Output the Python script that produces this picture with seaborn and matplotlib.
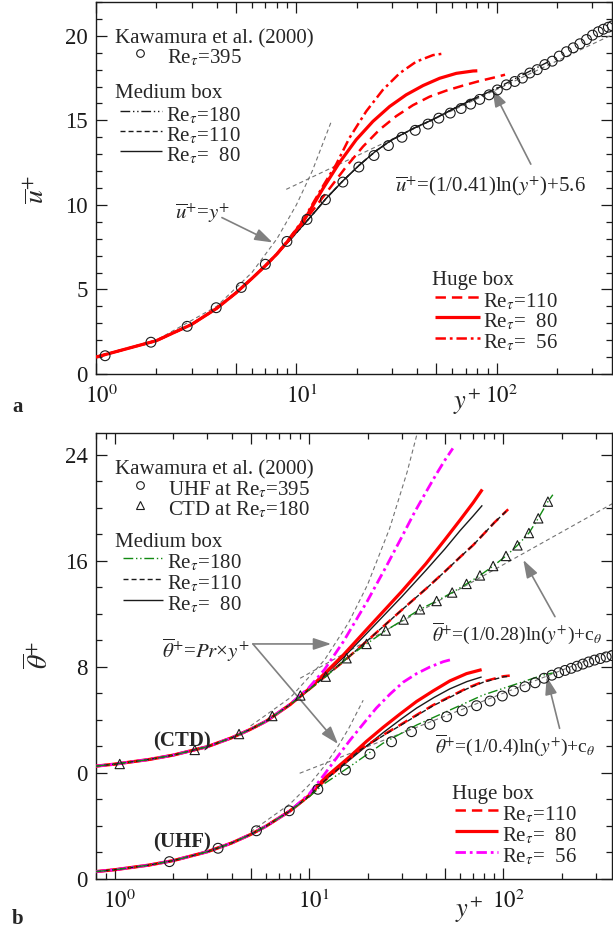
import numpy as np
import matplotlib
matplotlib.use('Agg')
import matplotlib.pyplot as plt
import seaborn as sns
from matplotlib.lines import Line2D
from matplotlib.transforms import ScaledTranslation
from matplotlib.ticker import FixedLocator, FuncFormatter, MultipleLocator, NullFormatter

# ---------------- data : panel a (mean velocity) ----------------
YP_KAW395 = [1.11, 1.88, 2.85, 3.98, 5.31, 7.0, 8.97, 11.3, 13.96, 17.06, 20.5, 24.4, 28.8, 33.65,
             39.2, 45.4, 51.4, 58.6, 66.4, 74.1, 82.2, 91.6, 100.7, 111.7, 123, 134.3, 146.2, 159.2,
             173.8, 189.2, 205.1, 222.8, 241, 260, 280.5, 300.6, 321.4, 340.4, 360.6, 377.6]
U_KAW395 = [1.08, 1.88, 2.82, 3.92, 5.12, 6.49, 7.84, 9.14, 10.31, 11.35, 12.24, 12.92, 13.51, 14.0,
            14.41, 14.78, 15.13, 15.43, 15.7, 15.96, 16.24, 16.51, 16.8, 17.1, 17.3, 17.5, 17.8, 18.0,
            18.3, 18.5, 18.8, 19.06, 19.29, 19.53, 19.78, 20.04, 20.24, 20.39, 20.51, 20.59]

YP_M180 = [1, 2, 3, 4, 5, 6, 7, 8, 9, 10, 11, 12.5, 14, 17, 20.6, 25, 30, 38, 48, 60, 76, 96, 130, 180]
U_M180 = [1.0, 1.97, 2.93, 3.88, 4.8, 5.65, 6.4, 7.1, 7.75, 8.35, 8.9, 9.65, 10.35, 11.4, 12.35, 13.2,
          13.85, 14.5, 15.05, 15.65, 16.25, 16.8, 17.6, 18.45]
YP_M110 = [1, 2, 3, 4, 5, 6, 7, 8, 9, 10, 11, 12.5, 14, 17, 20.6, 25, 30, 38, 48, 60, 76, 96, 110]
U_M110 = [1.0, 1.97, 2.93, 3.88, 4.8, 5.65, 6.4, 7.1, 7.75, 8.35, 8.9, 9.65, 10.35, 11.4, 12.35, 13.2,
          13.85, 14.5, 15.05, 15.65, 16.25, 16.8, 17.1]
YP_M80 = [1, 2, 3, 4, 5, 6, 7, 8, 9, 10, 11, 12.5, 14, 17, 20.6, 25, 30, 38, 48, 60, 76, 80]
U_M80 = [1.0, 1.97, 2.93, 3.88, 4.8, 5.65, 6.4, 7.1, 7.75, 8.35, 8.9, 9.65, 10.35, 11.4, 12.35, 13.2,
         13.85, 14.5, 15.05, 15.65, 16.25, 16.35]

YP_H110 = [1, 2, 3, 4, 5, 6, 7, 8, 9, 11, 14.6, 17.7, 21.5, 26, 31.5, 38.2, 46.2, 56, 68, 82.2, 96, 110]
U_H110 = [1.0, 1.97, 2.93, 3.88, 4.8, 5.65, 6.4, 7.1, 7.8, 9.05, 10.95, 12.25, 13.45, 14.45, 15.25, 15.9,
          16.4, 16.76, 17.06, 17.33, 17.52, 17.7]
YP_H80 = [1, 2, 3, 4, 5, 6, 7, 8, 9, 11, 13.55, 16.4, 19.9, 24.1, 29.2, 35.3, 42.9, 51.9, 62.8, 76.2, 80]
U_H80 = [1.0, 1.97, 2.93, 3.88, 4.8, 5.65, 6.4, 7.1, 7.82, 9.15, 10.95, 12.5, 13.86, 14.94, 15.82, 16.51,
         17.06, 17.49, 17.78, 17.92, 17.93]
YP_H56 = [1, 2, 3, 4, 5, 6, 7, 8, 9, 11, 13.55, 15.8, 18.4, 22.3, 27, 32.7, 39.6, 48.1, 55]
U_H56 = [1.0, 1.97, 2.93, 3.88, 4.8, 5.65, 6.4, 7.1, 7.85, 9.25, 11.1, 12.4, 13.96, 15.53, 16.8, 17.78,
         18.47, 18.86, 18.96]

YP_VISC = [1, 2, 4, 6, 8, 10, 12, 14.9]
U_VISC = [1, 2, 4, 6, 8, 10, 12, 14.9]
YP_LOG = [8.9, 376]
U_LOG = [10.92, 20.06]

# ---------------- data : panel b (mean temperature) ----------------
CTD_SHIFT = 8.0
YP_UHF395 = [1.91, 3.40, 5.36, 7.91, 11.1, 15.4, 20.6, 26.6, 33.7, 41.9, 51.1, 61.5, 72.9, 85.5, 98.9,
             112.7, 129.4, 145.9, 162.2, 177.8, 192.8, 208, 223.9, 239.9, 257, 275.4, 295.1, 316.2,
             338.8, 363.1]
TH_UHF395 = [1.31, 2.32, 3.64, 5.15, 6.77, 8.23, 9.43, 10.36, 11.12, 11.67, 12.25, 12.70, 13.08, 13.43,
             13.81, 14.19, 14.51, 14.81, 15.15, 15.38, 15.57, 15.74, 15.90, 16.06, 16.22, 16.38, 16.52,
             16.64, 16.76, 16.86]
YP_CTD180 = [1.06, 2.58, 4.36, 6.47, 9.02, 12.19, 15.6, 19.77, 24.83, 30.69, 37.24, 45.39, 54.58, 64.71,
             75.86, 88.72, 103.3, 118.3, 135.5, 151.4, 169.8]
TH_CTD180 = [0.68, 1.74, 2.94, 4.30, 5.85, 7.27, 8.66, 9.74, 10.75, 11.58, 12.35, 12.98, 13.62, 14.27,
             14.91, 15.62, 16.38, 17.18, 18.11, 19.22, 20.48]

# UHF curves
YP_U_M180 = [0.8, 1, 1.5, 2, 3, 4, 5, 6, 8, 10, 12, 16.2, 24, 35.8, 53.1, 78.9, 117, 160.7, 180]
TH_U_M180 = [0.56, 0.70, 1.05, 1.39, 2.06, 2.72, 3.36, 3.98, 5.15, 6.2, 7.2, 8.48, 10.24, 11.62, 12.75,
             13.89, 14.72, 15.40, 15.55]
YP_U_M110 = [0.8, 1, 1.5, 2, 3, 4, 5, 6, 8, 10, 12, 18.2, 24.1, 29.4, 35.8, 43.6, 53.1, 64.7, 78.9, 100, 108]
TH_U_M110 = [0.56, 0.70, 1.05, 1.39, 2.06, 2.72, 3.36, 3.98, 5.15, 6.25, 7.4, 9.7, 10.82, 11.57, 12.33,
             13.08, 13.71, 14.34, 14.85, 15.25, 15.3]
YP_U_M80 = [0.8, 1, 1.5, 2, 3, 4, 5, 6, 8, 10, 12, 16.2, 20, 24.1, 30, 35.8, 44, 53.1, 65, 77.4]
TH_U_M80 = [0.56, 0.70, 1.05, 1.39, 2.06, 2.72, 3.36, 3.98, 5.15, 6.25, 7.45, 9.0, 10.1, 11.05, 12.1,
            12.9, 13.7, 14.35, 14.9, 15.25]
YP_U_H110 = [0.8, 1, 1.5, 2, 3, 4, 5, 6, 8, 10, 12, 18.2, 24.1, 29.4, 35.8, 43.6, 53.1, 64.7, 78.9, 100, 108]
TH_U_H110 = [0.56, 0.70, 1.05, 1.39, 2.06, 2.72, 3.36, 3.98, 5.15, 6.25, 7.4, 9.74, 10.87, 11.62, 12.38,
             13.13, 13.76, 14.39, 14.9, 15.3, 15.35]
YP_U_H80 = [0.8, 1, 1.5, 2, 3, 4, 5, 6, 8, 10, 12, 16.2, 19.8, 24.1, 29.4, 35.8, 43.6, 53.1, 64.7, 77.4]
TH_U_H80 = [0.56, 0.70, 1.05, 1.39, 2.06, 2.72, 3.36, 3.98, 5.15, 6.3, 7.6, 9.23, 10.4, 11.45, 12.45,
            13.4, 14.2, 14.95, 15.5, 15.8]
YP_U_H56 = [0.8, 1, 1.5, 2, 3, 4, 5, 6, 8, 10, 12, 13.8, 16.2, 19, 22.2, 26.1, 30.5, 35.8, 41.9, 49.1, 55.2]
TH_U_H56 = [0.56, 0.70, 1.05, 1.39, 2.06, 2.72, 3.36, 3.98, 5.15, 6.4, 7.9, 9.1, 10.45, 11.7, 12.9,
            13.95, 14.85, 15.5, 16.0, 16.4, 16.6]

# CTD curves (true values, drawn shifted by CTD_SHIFT)
YP_C_M180 = [0.8, 1, 1.5, 2, 3, 4, 5, 6, 8, 10, 12.19, 15.6, 19.77, 24.83, 30.69, 37.24, 45.39, 54.58,
             64.71, 75.86, 88.72, 103.3, 118.3, 135.5, 151.4, 169.8, 180]
TH_C_M180 = [0.52, 0.67, 1.02, 1.35, 1.99, 2.66, 3.3, 3.9, 5.17, 6.3, 7.27, 8.66, 9.74, 10.75, 11.58,
             12.35, 12.98, 13.62, 14.27, 14.91, 15.62, 16.38, 17.18, 18.11, 19.22, 20.48, 21.0]
YP_C_M110 = [0.8, 1, 1.5, 2, 3, 4, 5, 6, 8, 10, 15, 20, 30, 40, 50, 60, 70, 80, 90, 106]
TH_C_M110 = [0.52, 0.67, 1.02, 1.35, 1.99, 2.66, 3.3, 3.9, 5.17, 6.3, 8.4, 10.0, 12.3, 13.9, 15.2,
             16.3, 17.2, 18.1, 18.9, 19.9]
YP_C_M80 = [0.8, 1, 1.5, 2, 3, 4, 5, 6, 8, 10, 15, 20, 30, 40, 50, 60, 70, 78]
TH_C_M80 = [0.52, 0.67, 1.02, 1.35, 1.99, 2.66, 3.3, 3.9, 5.17, 6.3, 8.7, 10.6, 13.3, 15.3, 16.9,
            18.3, 19.4, 20.2]
YP_C_H110 = [0.8, 1, 1.5, 2, 3, 4, 5, 6, 8, 10, 15, 20, 30, 40, 50, 60, 70, 80, 90, 106]
TH_C_H110 = [0.52, 0.67, 1.02, 1.35, 1.99, 2.66, 3.3, 3.9, 5.17, 6.3, 8.4, 10.0, 12.3, 13.9, 15.2,
             16.3, 17.2, 18.1, 18.9, 19.9]
YP_C_H80 = [0.8, 1, 1.5, 2, 3, 4, 5, 6, 8, 10, 15, 20, 30, 40, 50, 60, 70, 78]
TH_C_H80 = [0.52, 0.67, 1.02, 1.35, 1.99, 2.66, 3.3, 3.9, 5.17, 6.35, 8.9, 10.9, 13.7, 15.8, 17.6,
            19.1, 20.4, 21.4]
YP_C_H56 = [0.8, 1, 1.5, 2, 3, 4, 5, 6, 8, 10, 12, 15, 20, 25, 30, 35, 40, 45, 50, 55]
TH_C_H56 = [0.52, 0.67, 1.02, 1.35, 1.99, 2.66, 3.3, 3.9, 5.2, 6.45, 7.8, 9.9, 13.0, 15.6, 17.8, 19.7,
            21.2, 22.5, 23.6, 24.5]

# reference laws
YP_PR_C = [5, 8, 12, 16, 20, 26, 32, 37]
TH_PR_C = [3.55, 5.68, 8.52, 11.36, 14.2, 18.46, 22.72, 26.27]
YP_LOG_C = [9, 368]
TH_LOG_C = [7.15, 20.36]
YP_PR_U = [5, 8, 10, 12, 14, 16, 19]
TH_PR_U = [3.55, 5.68, 7.1, 8.52, 9.94, 11.36, 13.49]
YP_LOG_U = [8.95, 363]
TH_LOG_U = [7.98, 17.25]

THETA_TICKS = [0, 8, 16, 24, 32]
THETA_TICKLABELS = ['0', '0', '8', '16', '24']

# ---------------- style ----------------
sns.set_theme(style='ticks')
plt.rcParams['font.family'] = ['Liberation Serif', 'DejaVu Serif']
plt.rcParams['mathtext.fontset'] = 'stix'
plt.rcParams['lines.scale_dashes'] = False

W, H = 613, 931
fig = plt.figure(figsize=(W / 100, H / 100), dpi=100)
ax1 = fig.add_axes([96 / W, 1 - 374 / H, 516 / W, 372 / H])
ax2 = fig.add_axes([96 / W, 1 - 879 / H, 516 / W, 446 / H])

RED = '#ff0000'
MAG = '#ff00ff'
GRN = '#128a12'
GRY = '0.45'
SOLID = '-'
DASH_M = (0, (3.6, 2.2))
DDOT = (0, (7, 2, 1, 2, 1, 2))
DASH_H = (0, (7.5, 4.3))
DASHDOT_H = (0, (7.5, 2.8, 2, 2.8))
DASH_G = (0, (3, 2.2))


def draw(ax, x, y, color, lw, ls, shift=0.0, z=2):
    sns.lineplot(x=np.asarray(x, float), y=np.asarray(y, float) + shift, ax=ax, color=color,
                 lw=lw, sort=False, estimator=None, zorder=z)
    ln = ax.lines[-1]
    ln.set_linestyle(ls)
    ln.set_solid_capstyle('butt')
    ln.set_dash_capstyle('butt')


for ax in (ax1, ax2):
    ax.set_xscale('log')

# ---- panel a ----
draw(ax1, YP_VISC, U_VISC, GRY, 0.8, DASH_G, z=1)
draw(ax1, YP_LOG, U_LOG, GRY, 0.8, DASH_G, z=1)
draw(ax1, YP_M180, U_M180, 'k', 1.0, DDOT, z=3)
draw(ax1, YP_M110, U_M110, 'k', 1.0, DASH_M, z=3)
draw(ax1, YP_M80, U_M80, 'k', 1.0, SOLID, z=3)
draw(ax1, YP_H110, U_H110, RED, 1.8, DASH_H, z=4)
draw(ax1, YP_H80, U_H80, RED, 2.3, SOLID, z=4)
draw(ax1, YP_H56, U_H56, RED, 1.8, DASHDOT_H, z=4)
sns.scatterplot(x=YP_KAW395, y=U_KAW395, ax=ax1, marker='o', s=50, facecolor='none',
                edgecolor='k', linewidth=0.8, zorder=5)

# ---- panel b ----
draw(ax2, YP_PR_C, TH_PR_C, GRY, 0.8, DASH_G, shift=CTD_SHIFT, z=1)
draw(ax2, YP_LOG_C, TH_LOG_C, GRY, 0.8, DASH_G, shift=CTD_SHIFT, z=1)
draw(ax2, YP_PR_U, TH_PR_U, GRY, 0.8, DASH_G, z=1)
draw(ax2, YP_LOG_U, TH_LOG_U, GRY, 0.8, DASH_G, z=1)
for sh, data in ((0.0, [(YP_U_M80, TH_U_M80), (YP_U_M110, TH_U_M110), (YP_U_M180, TH_U_M180),
                        (YP_U_H110, TH_U_H110), (YP_U_H80, TH_U_H80), (YP_U_H56, TH_U_H56)]),
                 (CTD_SHIFT, [(YP_C_M80, TH_C_M80), (YP_C_M110, TH_C_M110), (YP_C_M180, TH_C_M180),
                              (YP_C_H110, TH_C_H110), (YP_C_H80, TH_C_H80), (YP_C_H56, TH_C_H56)])):
    (m80, m110, m180, h110, h80, h56) = data
    draw(ax2, *m80, 'k', 1.0, SOLID, shift=sh, z=3)
    draw(ax2, *h110, RED, 1.8, DASH_H, shift=sh, z=3)
    draw(ax2, *m110, 'k', 1.0, DASH_M, shift=sh, z=3.5)
    draw(ax2, *h80, RED, 2.3, SOLID, shift=sh, z=3)
    draw(ax2, *h56, MAG, 2.0, DASHDOT_H, shift=sh, z=3)
    draw(ax2, *m180, GRN, 1.0, DDOT, shift=sh, z=4)
sns.scatterplot(x=YP_UHF395, y=TH_UHF395, ax=ax2, marker='o', s=50, facecolor='none',
                edgecolor='k', linewidth=0.8, zorder=5)
sns.scatterplot(x=YP_CTD180, y=np.asarray(TH_CTD180) + CTD_SHIFT, ax=ax2, marker='^', s=45,
                facecolor='none', edgecolor='k', linewidth=0.8, zorder=5)

# ---- axes formatting ----
def logfmt(v, pos):
    e = np.log10(v)
    if abs(e - round(e)) < 1e-6:
        return r'$10^{%d}$' % int(round(e))
    return ''

for ax in (ax1, ax2):
    ax.xaxis.set_major_locator(FixedLocator([1, 5, 10, 50, 100, 500]))
    ax.xaxis.set_major_formatter(FuncFormatter(logfmt))
    ax.xaxis.set_minor_locator(FixedLocator([0.8, 0.9, 2, 3, 4, 6, 7, 8, 9, 20, 30, 40, 60, 70, 80, 90,
                                             200, 300, 400]))
    ax.xaxis.set_minor_formatter(NullFormatter())
    ax.tick_params(which='both', direction='in', top=True, right=True, width=0.9, colors='k',
                   labelsize=16.5)
    ax.tick_params(which='major', length=8)
    ax.tick_params(which='minor', length=4.3)
    ax.tick_params(axis='y', pad=6)
    ax.tick_params(axis='x', pad=8)
    for sp in ax.spines.values():
        sp.set_visible(True)
        sp.set_color('k')
        sp.set_linewidth(1.0)
    ax.set_xlabel('')
    ax.set_ylabel('')

ax1.set_xlim(1, 376)
ax1.set_ylim(0, 22)
ax1.yaxis.set_major_locator(FixedLocator([0, 5, 10, 15, 20]))
ax1.yaxis.set_minor_locator(MultipleLocator(1))

ax2.set_xlim(0.8, 363)
ax2.set_ylim(0, 33.66)
ax2.yaxis.set_major_locator(FixedLocator(THETA_TICKS))
ax2.yaxis.set_major_formatter(FuncFormatter(lambda v, p: THETA_TICKLABELS[THETA_TICKS.index(int(round(v)))]
                                            if int(round(v)) in THETA_TICKS else ''))
ax2.yaxis.set_minor_locator(MultipleLocator(2))

# shift decade labels slightly right (base centred on tick, exponent to the right)
shift_tr = ScaledTranslation(5 / 100, 0, fig.dpi_scale_trans)
for ax in (ax1, ax2):
    for t in ax.xaxis.get_major_ticks():
        t.label1.set_transform(t.label1.get_transform() + shift_tr)

# axis labels
ax1.text(-0.114, 0.495, r'$\overline{u}^{+}$', rotation=90, ha='center', va='center',
         transform=ax1.transAxes, fontsize=20)
ax2.text(-0.109, 0.502, r'$\overline{\theta}^{+}$', rotation=90, ha='center', va='center',
         transform=ax2.transAxes, fontsize=20)
ax1.text(0.718, -0.075, r'$y^{+}$', ha='center', va='center', transform=ax1.transAxes, fontsize=19)
ax2.text(0.722, -0.0695, r'$y^{+}$', ha='center', va='center', transform=ax2.transAxes, fontsize=19)


# ---- figure-pixel helpers for legends ----
def ftext(x, y, s, **kw):
    kw.setdefault('fontsize', 15)
    kw.setdefault('va', 'center_baseline')
    kw.setdefault('ha', 'left')
    fig.text(x / W, 1 - y / H, s, **kw)


def fline(x1, x2, y, **kw):
    fig.add_artist(Line2D([x1 / W, x2 / W], [1 - y / H, 1 - y / H], transform=fig.transFigure,
                          solid_capstyle='butt', dash_capstyle='butt', **kw))


def fmark(x, y, marker, ms):
    fig.add_artist(Line2D([x / W], [1 - y / H], marker=marker, ms=ms, mfc='none', mec='k', mew=0.8,
                          ls='none', transform=fig.transFigure))


RE = r'Re$_{\tau}$'
# legend a
ftext(115, 36, 'Kawamura et al. (2000)')
fmark(140, 53, 'o', 5.5)
ftext(167, 55, RE + '=395')
ftext(115, 91, 'Medium box')
for y, ls, lab in ((111, DDOT, '=180'), (131, DASH_M, '=110'), (151, SOLID, '=  80')):
    fline(120, 162, y, color='k', lw=1.0, ls=ls)
    ftext(166, y + 2, RE + lab)
ftext(432, 278, 'Huge box')
for y, ls, lw, lab in ((297, DASH_H, 1.8, '=110'), (317, SOLID, 2.3, '=  80'), (338, DASHDOT_H, 1.8, '=  56')):
    fline(435, 480, y, color=RED, lw=lw, ls=ls)
    ftext(483, y + 2, RE + lab)

# legend b
ftext(115, 467, 'Kawamura et al. (2000)')
fmark(140, 485, 'o', 5.5)
ftext(168, 487, 'UHF at ' + RE + '=395')
fmark(140, 505, '^', 5.5)
ftext(168, 507, 'CTD at ' + RE + '=180')
ftext(115, 540, 'Medium box')
for y, col, ls, lab in ((558, GRN, DDOT, '=180'), (579, 'k', DASH_M, '=110'), (600, 'k', SOLID, '=  80')):
    fline(123, 163, y, color=col, lw=1.0, ls=ls)
    ftext(167, y + 2, RE + lab)
ftext(452, 792, 'Huge box')
for y, col, ls, lw, lab in ((810, RED, DASH_H, 1.8, '=110'), (831, RED, SOLID, 2.3, '=  80'),
                            (852, MAG, DASHDOT_H, 2.0, '=  56')):
    fline(455, 498, y, color=col, lw=lw, ls=ls)
    ftext(502, y + 2, RE + lab)

# ---- annotations ----
AP = dict(arrowstyle='-|>,head_length=0.9,head_width=0.3', color='0.5', lw=1.2,
          shrinkA=0, shrinkB=0, mutation_scale=12)
ftext(175, 210, r'$\overline{u}^{+}$=$y^{+}$')
ax1.annotate('', xy=(7.61, 7.78), xytext=(4.25, 9.25), arrowprops=AP)
ftext(395, 183, r'$\overline{u}^{+}$=(1/0.41)ln($y^{+}$)+5.6')
ax1.annotate('', xy=(95.1, 16.86), xytext=(147.9, 12.41), arrowprops=AP)

ftext(250, 647, r'$\overline{\theta}^{+}$=$Pr$×$y^{+}$', ha='right')
ax2.annotate('', xy=(13.0, 17.74), xytext=(5.14, 17.74), arrowprops=AP)
ax2.annotate('', xy=(14.1, 10.19), xytext=(5.14, 17.74), arrowprops=AP)
ftext(432, 630, r'$\overline{\theta}^{+}$=(1/0.28)ln($y^{+}$)+c$_{\theta}$', fontsize=14)
ax2.annotate('', xy=(126.8, 24.08), xytext=(184.6, 19.8), arrowprops=AP)
ftext(435, 742, r'$\overline{\theta}^{+}$=(1/0.4)ln($y^{+}$)+c$_{\theta}$', fontsize=14)
ax2.annotate('', xy=(167.4, 15.27), xytext=(195, 11.37), arrowprops=AP)
ftext(182, 739, '(CTD)', ha='center', fontweight='bold')
ftext(182, 840, '(UHF)', ha='center', fontweight='bold')

ftext(12, 405, 'a', fontweight='bold')
ftext(12, 917, 'b', fontweight='bold')

fig.savefig('out.png', dpi=100)
